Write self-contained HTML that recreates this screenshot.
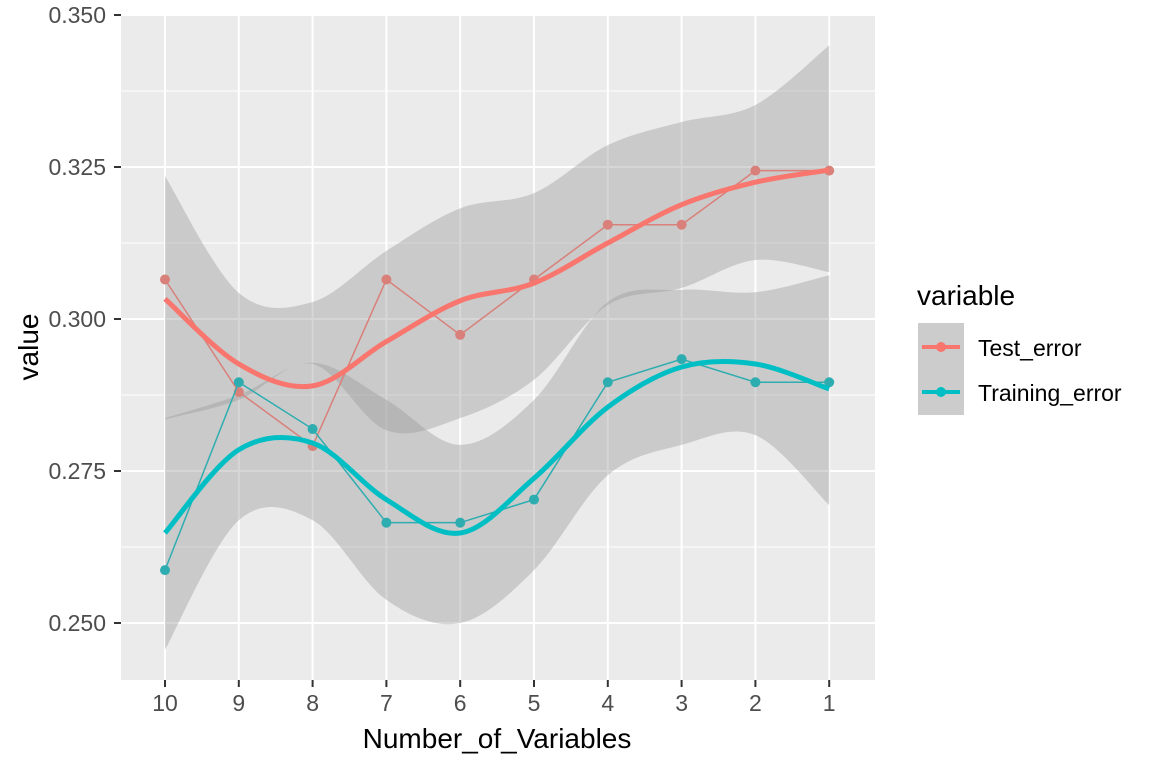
<!DOCTYPE html>
<html><head><meta charset="utf-8"><style>
body{margin:0;background:#fff;}
svg{display:block;font-family:"Liberation Sans",sans-serif;}
</style></head><body>
<svg id="chart" width="1152" height="768">
<rect x="121" y="15" width="754" height="665" fill="#ebebeb"/>
<g id="grid"></g><g id="ribbons"></g><g id="series"></g><g id="axes"></g>
<text x="497" y="748" font-size="28" text-anchor="middle" fill="#000">Number_of_Variables</text>
<text transform="translate(38,347) rotate(-90)" font-size="28" text-anchor="middle" fill="#000">value</text>
<g>
<text x="917" y="305" font-size="28" fill="#000">variable</text>
<rect x="918" y="323" width="46" height="92" fill="#cccccc"/>
<g><line x1="922" x2="960" y1="347" y2="347" stroke="#f8766d" stroke-width="4"/><circle cx="941" cy="347" r="5" fill="#f8766d"/><text x="978" y="356" font-size="23" fill="#000">Test_error</text></g>
<g><line x1="922" x2="960" y1="392" y2="392" stroke="#00bfc4" stroke-width="4"/><circle cx="941" cy="392" r="5" fill="#00bfc4"/><text x="978" y="401" font-size="23" fill="#000">Training_error</text></g>
</g>
</svg>
<script>
const categories=["10","9","8","7","6","5","4","3","2","1"];
const yTicks=[0.250,0.275,0.300,0.325,0.350];
const testVals=[0.3065,0.2880,0.2791,0.3065,0.2974,0.3065,0.3155,0.3155,0.3244,0.3244];
const trainVals=[0.2587,0.2896,0.2819,0.2665,0.2665,0.2703,0.2896,0.2934,0.2896,0.2896];
const testSmooth=[0.3033,0.2926,0.2890,0.2963,0.3030,0.3059,0.3125,0.3188,0.3225,0.3245];
const testUpper=[0.3235,0.3043,0.3028,0.3112,0.3182,0.3207,0.3286,0.3324,0.3352,0.3450];
const testLower=[0.2835,0.2867,0.2926,0.2817,0.2837,0.2900,0.3023,0.3051,0.3097,0.3077];
const trainSmooth=[0.2648,0.2785,0.2796,0.2703,0.2648,0.2738,0.2855,0.2921,0.2926,0.2885];
const trainUpper=[0.2837,0.2875,0.2928,0.2867,0.2793,0.2867,0.3028,0.3048,0.3044,0.3072];
const trainLower=[0.2456,0.2669,0.2669,0.2538,0.2500,0.2587,0.2743,0.2793,0.2809,0.2694];
const NS="http://www.w3.org/2000/svg";
const xS=i=>165+i*73.8;
const yS=v=>623-(v-0.25)/0.025*152;
function mk(tag,attrs,parent){const e=document.createElementNS(NS,tag);for(const k in attrs)e.setAttribute(k,attrs[k]);parent.appendChild(e);return e;}
function smoothPath(pts){let d="M"+pts[0][0]+","+pts[0][1];for(let i=0;i<pts.length-1;i++){const p0=pts[Math.max(i-1,0)],p1=pts[i],p2=pts[i+1],p3=pts[Math.min(i+2,pts.length-1)];const c1=[p1[0]+(p2[0]-p0[0])/6,p1[1]+(p2[1]-p0[1])/6],c2=[p2[0]-(p3[0]-p1[0])/6,p2[1]-(p3[1]-p1[1])/6];d+=" C"+c1+" "+c2+" "+p2;}return d;}
const grid=document.getElementById('grid'),axes=document.getElementById('axes');
for(let i=0;i<yTicks.length;i++){
 const y=yS(yTicks[i]);
 if(i<yTicks.length-1){const m=mk('line',{x1:121,x2:875,y1:y-76,y2:y-76,stroke:"#fff","stroke-width":1},grid);}
 const g=mk('line',{x1:121,x2:875,y1:y,y2:y,stroke:"#fff","stroke-width":2},grid);
 
 mk('line',{x1:114,x2:121,y1:y,y2:y,stroke:"#333","stroke-width":2},axes);
 const t=mk('text',{x:106,y:y+8,"font-size":23,"text-anchor":"end",fill:"#4d4d4d"},axes);t.textContent=yTicks[i].toFixed(3);
 
}
{const m=mk('line',{x1:121,x2:875,y1:yS(0.2375),y2:yS(0.2375),stroke:"#fff","stroke-width":1},grid);}
categories.forEach((c,i)=>{const x=xS(i);
 const g=mk('line',{x1:x,x2:x,y1:15,y2:680,stroke:"#fff","stroke-width":2},grid);
 
 mk('line',{x1:x,x2:x,y1:680,y2:687,stroke:"#333","stroke-width":2},axes);
 const t=mk('text',{x:x,y:711,"font-size":23,"text-anchor":"middle",fill:"#4d4d4d"},axes);t.textContent=c;
 
});
const rib=document.getElementById('ribbons'),ser=document.getElementById('series');
function ribbon(up,lo,name){const u=up.map((v,i)=>[xS(i),yS(v)]),l=lo.map((v,i)=>[xS(i),yS(v)]).reverse();
 let d=smoothPath(u);const dl=smoothPath(l);d+=" L"+dl.slice(1)+" Z";
 const p=mk('path',{d:d,fill:"#999","fill-opacity":0.4},rib);}
ribbon(testUpper,testLower,'test-confidence-band');
ribbon(trainUpper,trainLower,'training-confidence-band');
function series(vals,sm,col,lcol,name){
 const pts=vals.map((v,i)=>xS(i)+","+yS(v)).join(" ");
 const pl=mk('polyline',{points:pts,fill:"none",stroke:lcol,"stroke-width":1.5},ser);
 
 vals.forEach((v,i)=>{const c=mk('circle',{cx:xS(i),cy:yS(v),r:5,fill:lcol},ser);
  });
 const s=mk('path',{d:smoothPath(sm.map((v,i)=>[xS(i),yS(v)])),fill:"none",stroke:col,"stroke-width":5},ser);
 
}
series(testVals,testSmooth,"#f8766d","#d9807a",'test-error');
series(trainVals,trainSmooth,"#00bfc4","#2eadb0",'training-error');
</script>
</body></html>
